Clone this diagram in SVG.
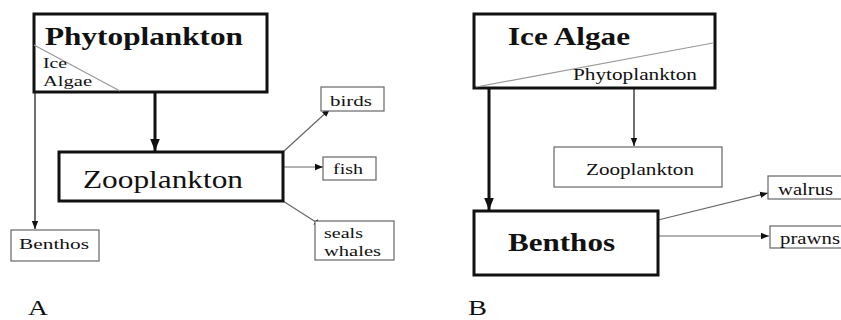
<svg xmlns="http://www.w3.org/2000/svg" width="841" height="320" viewBox="0 0 841 320" font-family="Liberation Serif, DejaVu Serif, Times New Roman, serif">
<style>
.t{font-family:"Liberation Serif","DejaVu Serif","Times New Roman",serif;fill:#111}
.thick{fill:#fff;stroke:#111;stroke-width:3}
.thin{fill:#fff;stroke:#666;stroke-width:1.2}
.c{fill:none;stroke:#666;stroke-width:1.2}
.cb{fill:none;stroke:#111;stroke-width:3}
.cd{fill:none;stroke:#111;stroke-width:1.2}
.diag{stroke:#999;stroke-width:1.2}
</style>
<defs>
<marker id="ah" viewBox="0 0 10 10" refX="10" refY="5" markerWidth="8" markerHeight="8" markerUnits="userSpaceOnUse" orient="auto"><path d="M0,1 L10,5 L0,9 z" fill="#111"/></marker>
<marker id="ahb" viewBox="0 0 10 10" refX="10" refY="5" markerWidth="4" markerHeight="4" orient="auto"><path d="M0,1 L10,5 L0,9 z" fill="#111"/></marker>
</defs>
<rect width="841" height="320" fill="#fff"/>
<g id="connectors">
<line class="cd" x1="35" y1="92" x2="35" y2="229" marker-end="url(#ah)"/>
<line class="cb" x1="155" y1="92" x2="155" y2="151" marker-end="url(#ahb)"/>
<line class="c" x1="283" y1="152" x2="330" y2="109" marker-end="url(#ah)"/>
<line class="c" x1="283" y1="167" x2="323" y2="167" marker-end="url(#ah)"/>
<line class="c" x1="283" y1="201" x2="322" y2="226" marker-end="url(#ah)"/>
<line class="cb" x1="489" y1="88" x2="489" y2="210" marker-end="url(#ahb)"/>
<line class="cd" x1="634" y1="88" x2="634" y2="146" marker-end="url(#ah)"/>
<line class="c" x1="658" y1="220" x2="768" y2="193" marker-end="url(#ah)"/>
<line class="c" x1="658" y1="236" x2="769" y2="236" marker-end="url(#ah)"/>
</g>
<g id="phytoplankton-a">
<rect class="thick" x="34" y="14" width="233" height="78"/>
<line class="diag" x1="34" y1="45" x2="120" y2="91"/>
<text class="t" x="45" y="45" font-size="26" font-weight="bold" textLength="198" lengthAdjust="spacingAndGlyphs">Phytoplankton</text>
<text class="t" x="43" y="68" font-size="14" textLength="24" lengthAdjust="spacingAndGlyphs">Ice</text>
<text class="t" x="43" y="86" font-size="14" textLength="49" lengthAdjust="spacingAndGlyphs">Algae</text>
</g>
<g id="benthos-a">
<rect class="thin" x="11" y="230" width="88" height="31"/>
<text class="t" x="19" y="249" font-size="15" textLength="70" lengthAdjust="spacingAndGlyphs">Benthos</text>
</g>
<g id="zooplankton-a">
<rect class="thick" x="59" y="152" width="224" height="49"/>
<text class="t" x="83" y="188" font-size="26" textLength="160" lengthAdjust="spacingAndGlyphs">Zooplankton</text>
</g>
<g id="birds">
<rect class="thin" x="321" y="87" width="63" height="24"/>
<text class="t" x="330" y="106" font-size="15" textLength="42" lengthAdjust="spacingAndGlyphs">birds</text>
</g>
<g id="fish">
<rect class="thin" x="323" y="157" width="53" height="23"/>
<text class="t" x="333" y="174" font-size="15" textLength="30" lengthAdjust="spacingAndGlyphs">fish</text>
</g>
<g id="seals-whales">
<rect class="thin" x="315" y="221" width="79" height="39"/>
<text class="t" x="324" y="238" font-size="15" textLength="39" lengthAdjust="spacingAndGlyphs">seals</text>
<text class="t" x="324" y="256" font-size="15" textLength="57" lengthAdjust="spacingAndGlyphs">whales</text>
</g>
<text class="t" x="28" y="315" font-size="22" textLength="20" lengthAdjust="spacingAndGlyphs">A</text>
<g id="ice-algae-b">
<rect class="thick" x="474" y="14" width="241" height="74"/>
<line class="diag" x1="476" y1="87" x2="713" y2="43"/>
<text class="t" x="508" y="45" font-size="26" font-weight="bold" textLength="122" lengthAdjust="spacingAndGlyphs">Ice Algae</text>
<text class="t" x="573" y="80" font-size="16" textLength="124" lengthAdjust="spacingAndGlyphs">Phytoplankton</text>
</g>
<g id="zooplankton-b">
<rect class="thin" x="554" y="147" width="168" height="40"/>
<text class="t" x="586" y="175" font-size="16" textLength="108" lengthAdjust="spacingAndGlyphs">Zooplankton</text>
</g>
<g id="benthos-b">
<rect class="thick" x="474" y="211" width="184" height="64"/>
<text class="t" x="508" y="251" font-size="26" font-weight="bold" textLength="107" lengthAdjust="spacingAndGlyphs">Benthos</text>
</g>
<g id="walrus">
<rect class="thin" x="768" y="176" width="80" height="23"/>
<text class="t" x="778" y="195" font-size="16" textLength="55" lengthAdjust="spacingAndGlyphs">walrus</text>
</g>
<g id="prawns">
<rect class="thin" x="770" y="226" width="80" height="22"/>
<text class="t" x="780" y="244" font-size="16" textLength="60" lengthAdjust="spacingAndGlyphs">prawns</text>
</g>
<text class="t" x="468" y="315" font-size="22" textLength="19" lengthAdjust="spacingAndGlyphs">B</text>
</svg>
